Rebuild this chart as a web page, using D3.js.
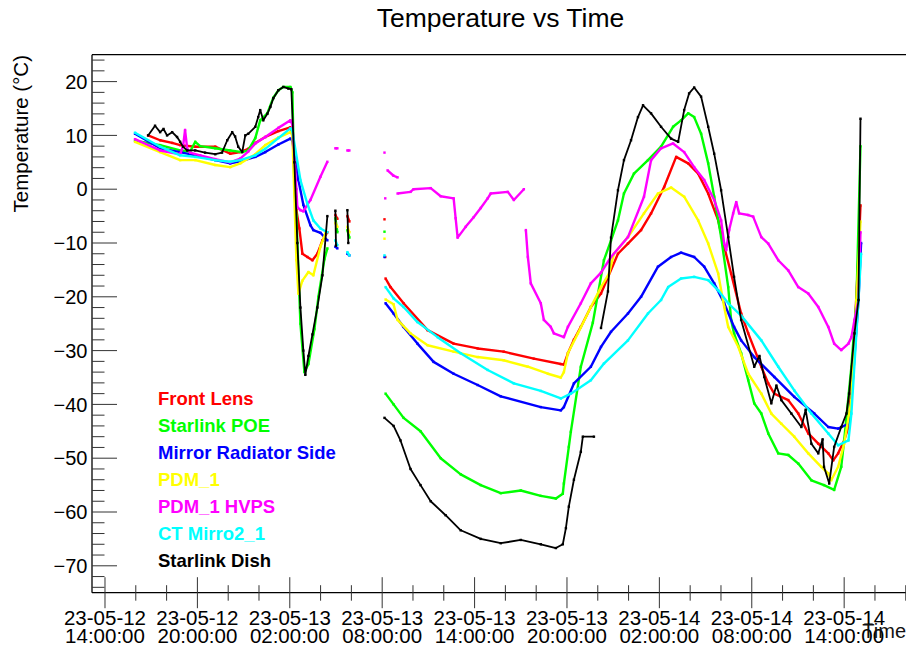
<!DOCTYPE html>
<html><head><meta charset="utf-8">
<script src="https://cdn.jsdelivr.net/npm/d3@7"></script>
<style>
body{margin:0;background:#fff}
svg{display:block}
text{font-family:"Liberation Sans",Arial,Helvetica,sans-serif}
</style>
</head><body>
<svg id="chart" width="906" height="649"></svg>
<script>
// ---- Data (time in hours since 2023-05-12 00:00 UTC, temperature in °C); null = gap ----
const seriesNames = ["Front Lens","Starlink POE","Mirror Radiator Side","PDM_1","PDM_1 HVPS","CT Mirro2_1","Starlink Dish"];
const seriesColors = ["#ff0000","#00ff00","#0000ff","#ffff00","#ff00ff","#00ffff","#000000"];

const frontLens = [[16.80,10.0],[17.58,9.1],[18.36,8.6],[18.88,8.2],[19.86,7.9],[21.16,7.9],[22.13,6.6],[22.78,6.9],[23.30,7.5],[23.76,8.6],[24.41,9.7],[25.26,10.8],[26.04,11.5],[26.17,10.5],[26.43,-3.9],[26.62,-7.3],[26.82,-12.0],[27.14,-12.6],[27.47,-13.2],[27.79,-12.0],[28.12,-9.5],[28.44,-8.0],null,[28.96,-4.8],[29.09,-5.5],null,[29.74,-5.0],[29.87,-6.0],null,
  [32.15,-5.6],null,[32.20,-12.6],null,[32.22,-16.6],[32.54,-18.2],[33.39,-21.2],[34.95,-26.2],[36.64,-28.7],[38.20,-29.6],[39.89,-30.2],[41.85,-31.5],[43.60,-32.5],[43.80,-32.6],[44.06,-30.5],[44.45,-28.0],[44.90,-25.6],[45.55,-21.9],[46.21,-19.4],[47.31,-12.0],[47.96,-10.1],[48.81,-7.6],[49.46,-4.5],[50.31,0.4],[51.09,6.0],[51.87,4.8],[52.52,2.9],[53.17,-0.8],[53.82,-5.8],[54.21,-10.7],[54.66,-15.7],[55.31,-23.1],[55.77,-26.8],[56.62,-33.0],[57.07,-36.1],[57.46,-38.0],[58.37,-39.2],[59.02,-41.7],[59.67,-45.4],[60.32,-47.3],[60.97,-49.1],[61.29,-50.4],[61.61,-49.1],[62.00,-46.7],[62.28,-44.2],[62.47,-36.1],[62.67,-26.8],[62.93,-12.0],[63.06,-3.0]];

const starlinkPOE = [[15.95,9.0],[17.58,8.2],[18.88,7.2],[19.53,7.0],[19.86,8.8],[20.18,8.0],[21.16,7.6],[22.13,7.2],[22.91,6.9],[23.30,7.2],[23.76,9.5],[24.08,12.8],[24.54,14.1],[24.93,17.0],[25.26,18.4],[25.58,19.0],[26.04,19.0],[26.17,18.0],[26.30,0.0],[26.43,-5.0],[26.69,-25.0],[26.95,-34.0],[27.21,-32.5],[27.60,-26.0],[27.86,-20.0],[28.25,-13.0],[28.44,-11.0],null,[28.96,-5.4],[29.09,-8.0],null,[29.74,-7.6],[29.87,-9.0],null,
  [32.15,-7.9],null,[32.22,-38.0],[32.74,-40.0],[33.39,-42.5],[34.49,-45.0],[35.80,-50.0],[37.10,-53.0],[38.40,-55.0],[39.70,-56.5],[41.00,-56.0],[42.30,-57.0],[43.28,-57.5],[43.73,-56.6],[43.80,-54.7],[44.12,-47.9],[44.25,-45.1],[44.90,-33.0],[45.68,-24.8],[46.40,-13.2],[46.86,-9.5],[47.31,-5.8],[47.70,-0.8],[48.35,2.9],[49.26,5.4],[50.11,7.9],[50.89,11.6],[51.41,12.8],[51.87,14.1],[52.26,13.4],[52.71,10.3],[53.17,4.8],[53.56,-1.4],[54.01,-8.9],[54.47,-18.2],[54.66,-24.3],[54.85,-26.8],[55.31,-30.5],[55.77,-35.5],[56.16,-39.8],[56.62,-41.7],[57.07,-45.4],[57.72,-49.1],[58.37,-49.4],[59.02,-51.0],[59.87,-54.1],[60.69,-55.0],[61.35,-55.9],[61.81,-51.6],[62.00,-46.7],[62.47,-33.0],[62.80,-20.6],[63.06,8.0]];

const mirrorRadiator = [[15.95,10.3],[17.58,7.6],[18.88,6.9],[19.86,6.3],[21.16,5.4],[22.13,4.8],[22.78,5.2],[23.76,6.0],[24.41,6.9],[25.26,8.3],[26.04,9.4],[26.17,9.0],[26.56,1.7],[26.88,-2.9],[27.34,-6.7],[27.53,-7.6],[27.99,-8.1],[28.44,-9.5],null,[28.96,-10.7],[29.09,-11.0],null,[29.74,-12.0],[29.87,-12.3],null,
  [32.15,-12.6],null,[32.22,-21.2],[32.74,-23.1],[33.39,-25.6],[34.29,-28.7],[35.34,-32.1],[36.64,-34.3],[38.20,-36.4],[39.70,-38.5],[42.30,-40.5],[43.60,-41.1],[43.80,-40.5],[44.45,-36.1],[45.55,-33.0],[46.21,-29.3],[46.86,-26.5],[47.96,-23.1],[48.81,-20.0],[49.91,-14.4],[50.76,-12.6],[51.41,-11.8],[52.26,-12.6],[52.91,-14.4],[53.56,-17.5],[54.21,-21.2],[54.85,-25.6],[55.31,-28.1],[56.16,-31.2],[57.46,-34.9],[58.76,-38.6],[60.06,-41.7],[60.97,-44.2],[61.61,-44.5],[62.28,-43.6],[62.47,-39.2],[62.93,-20.6],[63.10,-10.0]];

const pdm1 = [[15.95,8.8],[17.58,6.9],[18.88,5.4],[19.86,5.4],[21.16,4.5],[22.13,4.1],[22.78,4.8],[23.76,6.5],[24.41,8.2],[25.26,9.6],[26.04,10.6],[26.17,10.0],[26.43,-13.2],[26.56,-19.4],[26.82,-17.0],[27.21,-15.4],[27.53,-16.0],[27.99,-10.7],[28.31,-8.2],null,[28.96,-6.3],[29.09,-7.0],null,[29.74,-7.0],[29.87,-8.0],null,
  [32.15,-9.2],null,[32.22,-20.5],[32.74,-21.4],[33.00,-24.3],[33.84,-26.8],[34.95,-29.0],[36.64,-30.2],[38.20,-31.2],[39.89,-31.8],[41.46,-33.0],[42.76,-34.3],[43.60,-35.0],[43.80,-34.0],[44.06,-30.5],[44.71,-26.8],[45.55,-21.9],[46.21,-18.2],[46.73,-15.7],[47.05,-12.0],[47.96,-8.9],[49.00,-4.5],[49.91,-0.8],[50.76,0.3],[51.61,-1.4],[52.52,-5.8],[53.17,-10.1],[53.82,-15.7],[54.21,-21.9],[54.47,-25.6],[55.12,-29.3],[55.77,-34.3],[56.62,-38.0],[57.27,-41.7],[57.92,-43.6],[58.76,-46.0],[59.67,-49.1],[60.51,-51.6],[60.97,-52.8],[61.16,-54.1],[61.61,-51.6],[62.00,-47.3],[62.47,-39.2],[62.80,-20.6],[63.06,-6.0]];

const pdm1Hvps = [[15.95,9.3],[17.58,7.2],[18.88,6.5],[19.07,8.0],[19.20,11.0],[19.34,7.5],[19.53,6.8],[20.18,6.3],[21.16,5.6],[22.13,5.0],[22.78,5.7],[23.30,7.0],[23.76,8.5],[24.41,9.7],[25.26,11.4],[26.04,12.8],[26.17,12.0],[26.43,0.0],[26.49,-3.3],[26.69,-3.9],[26.88,-4.1],[27.34,-2.0],[27.99,2.3],[28.44,5.1],null,[28.96,7.6],[29.09,7.6],null,[29.74,7.2],[29.87,7.2],null,
  [32.15,6.8],null,[32.20,-1.7],null,[32.35,3.5],[32.74,2.5],[33.00,2.2],null,[33.00,-0.8],[33.84,-0.5],[34.04,0.0],[35.15,0.2],[35.80,-1.3],[36.64,-1.7],[36.77,-5.4],[36.90,-9.0],[37.42,-7.0],[37.94,-5.2],[38.40,-3.5],[38.85,-1.7],[39.05,-0.8],[40.16,-0.5],[40.55,-2.0],[41.20,0.0],null,[41.33,-7.6],[41.46,-12.6],[41.65,-17.5],[42.30,-21.2],[42.50,-24.3],[42.95,-25.6],[43.15,-26.8],[43.80,-27.5],[44.06,-25.6],[44.90,-21.2],[45.55,-17.5],[46.21,-15.5],[46.86,-12.6],[47.96,-8.9],[49.00,-1.4],[49.46,5.4],[50.11,7.6],[50.89,8.5],[51.61,6.9],[52.26,4.1],[52.91,1.7],[53.56,-2.0],[54.01,-5.8],[54.21,-10.1],[54.34,-11.3],[54.53,-7.6],[54.79,-4.5],[54.99,-2.4],[55.18,-4.5],[55.77,-4.8],[56.09,-5.1],[56.62,-8.9],[57.07,-10.1],[57.72,-13.2],[58.37,-15.1],[59.02,-18.2],[59.67,-19.4],[60.32,-21.9],[60.97,-25.6],[61.35,-28.7],[61.81,-29.9],[62.28,-28.7],[62.47,-27.5],[62.67,-24.3],[62.93,-20.6],[63.06,-8.0]];

const ctMirro2 = [[15.95,10.5],[17.58,7.9],[18.88,6.3],[19.86,6.0],[21.16,5.4],[22.13,5.1],[22.78,5.4],[23.76,6.3],[24.41,7.5],[25.26,9.5],[26.04,11.3],[26.17,10.8],[26.69,1.7],[27.14,-2.7],[27.53,-5.8],[27.99,-7.3],[28.44,-8.0],null,[28.96,-9.5],[29.09,-10.4],null,[29.74,-11.7],[29.87,-12.3],null,
  [32.15,-12.3],null,[32.22,-18.2],[32.74,-20.3],[33.39,-21.9],[34.29,-24.7],[35.60,-27.5],[37.10,-30.5],[38.85,-33.6],[40.55,-36.1],[42.30,-37.5],[43.60,-38.9],[44.25,-38.0],[45.55,-35.5],[46.40,-32.4],[47.96,-28.1],[49.26,-23.1],[50.11,-20.6],[50.57,-18.2],[51.41,-16.6],[52.26,-16.3],[53.17,-16.9],[53.82,-18.8],[54.47,-21.2],[55.31,-23.5],[56.62,-28.1],[57.72,-33.0],[58.76,-37.4],[59.87,-41.7],[60.97,-45.4],[61.61,-47.6],[62.28,-46.7],[62.47,-41.7],[62.93,-20.6],[63.10,-12.0]];

const starlinkDish = [[16.80,10.0],[17.25,11.8],[17.58,10.6],[17.80,11.2],[18.03,10.0],[18.36,10.6],[18.68,9.7],[18.88,8.8],[19.07,7.9],[19.34,7.2],[19.86,7.2],[20.50,6.8],[21.16,6.5],[21.60,6.8],[21.94,9.1],[22.26,10.6],[22.45,9.8],[22.65,7.9],[22.91,6.9],[23.11,10.0],[23.30,10.3],[23.76,11.6],[23.95,13.4],[24.08,14.7],[24.28,12.8],[24.54,14.0],[24.74,15.3],[24.93,16.9],[25.26,18.4],[25.58,19.0],[25.91,18.7],[26.10,18.6],[26.30,5.0],[26.49,-10.0],[26.69,-22.0],[26.88,-30.0],[27.01,-34.5],[27.21,-31.0],[27.47,-27.0],[27.79,-22.0],[28.12,-16.0],[28.44,-5.0],null,[28.96,-4.0],[29.00,-10.5],null,[29.74,-3.9],[29.80,-10.0],null,
  [32.15,-42.5],[32.74,-44.0],[33.19,-46.7],[33.84,-52.0],[34.49,-55.0],[35.15,-58.0],[36.12,-60.6],[37.10,-63.4],[38.40,-65.0],[39.70,-65.8],[41.00,-65.2],[42.30,-66.0],[43.28,-66.7],[43.73,-66.0],[43.93,-63.0],[44.12,-59.0],[44.45,-54.0],[44.90,-48.8],[45.03,-46.0],[45.75,-46.0],null,[46.21,-25.8],[46.66,-19.0],[46.86,-9.0],[47.31,-0.2],[47.70,5.4],[48.16,9.1],[48.61,13.4],[48.94,15.6],[49.46,14.1],[50.11,11.6],[50.76,9.4],[51.22,8.8],[51.61,14.7],[51.93,17.8],[52.26,18.9],[52.71,17.2],[53.17,11.6],[53.56,6.6],[54.01,-0.2],[54.47,-8.9],[54.85,-16.3],[55.31,-24.3],[56.16,-33.0],[56.50,-31.0],[56.81,-34.9],[57.27,-39.8],[57.60,-36.5],[57.92,-39.2],[58.57,-41.7],[59.22,-44.2],[59.50,-41.0],[59.87,-47.3],[60.32,-49.1],[60.60,-46.5],[60.69,-51.6],[61.03,-54.7],[61.35,-47.9],[61.81,-44.2],[62.15,-41.7],[62.32,-38.0],[62.67,-26.8],[62.93,-20.6],[63.06,13.1]];

const seriesData = [frontLens, starlinkPOE, mirrorRadiator, pdm1, pdm1Hvps, ctMirro2, starlinkDish];

const titleText = "Temperature vs Time";
const yAxisTitle = "Temperature (\u00B0C)";
const xAxisTitle = "Time";
const xMajorHours = [14,20,26,32,38,44,50,56,62];   // labelled ticks
const yMajorTicks = [-70,-60,-50,-40,-30,-20,-10,0,10,20];
const timeOrigin = Date.UTC(2023,4,12,0,0,0);

// ---- Layout ----
const svg = d3.select("#chart");
const L = 92, T = 54.7, B = 592.7, R = 915;
const x = d3.scaleLinear().domain([13.156, 66.6]).range([L, R]);
const y = d3.scaleLinear().domain([-75, 25]).range([B, T]);
const font = '"Liberation Sans",Arial,Helvetica,sans-serif';

svg.append("defs").append("clipPath").attr("id","clip")
  .append("rect").attr("x",L).attr("y",T).attr("width",R-L).attr("height",B-T);

// Title
svg.append("text").attr("x",500.5).attr("y",27).attr("text-anchor","middle")
  .attr("font-size",26.5).attr("fill","#000").text(titleText);

// Series
const plot = svg.append("g").attr("clip-path","url(#clip)");
const line = d3.line().defined(d => d !== null).x(d => x(d[0])).y(d => y(d[1]));
seriesData.forEach((data, i) => {
  const c = seriesColors[i];
  plot.append("path").attr("d", line(data)).attr("fill","none")
    .attr("stroke", c).attr("stroke-width", i === 6 ? 1.8 : 2.4)
    .attr("stroke-linejoin","round");
  plot.selectAll(null).data(data.filter(d => d !== null)).enter().append("rect")
    .attr("x", d => x(d[0]) - 1.2).attr("y", d => y(d[1]) - 1.2)
    .attr("width", 2.4).attr("height", 2.4).attr("fill", c);
});

// Frame (top and left)
svg.append("line").attr("x1",L).attr("x2",R).attr("y1",T).attr("y2",T).attr("stroke","#000").attr("stroke-width",1.3);
svg.append("line").attr("x1",L).attr("x2",L).attr("y1",T).attr("y2",B).attr("stroke","#000").attr("stroke-width",1.3);
svg.append("line").attr("x1",L).attr("x2",R).attr("y1",B).attr("y2",B).attr("stroke","#000").attr("stroke-width",1.3);

// Y axis ticks (inward)
const yMinor = d3.range(-74, 25, 2).filter(v => v % 10 !== 0);
const yAx = svg.append("g");
yMinor.forEach(v => yAx.append("line").attr("x1",L).attr("x2",L+12.5).attr("y1",y(v)).attr("y2",y(v)).attr("stroke","#333").attr("stroke-width",1));
yMajorTicks.forEach(v => {
  yAx.append("line").attr("x1",L).attr("x2",L+25).attr("y1",y(v)).attr("y2",y(v)).attr("stroke","#333").attr("stroke-width",1);
  yAx.append("text").attr("x",L-4.5).attr("y",y(v)).attr("dy","0.36em").attr("text-anchor","end")
    .attr("font-size",20).attr("fill","#000").text(d3.format("d")(v).replace("-","\u2212"));
});

// X axis ticks (crossing the axis)
const xMinor = d3.range(14, 67, 2).filter(h => !xMajorHours.includes(h) && x(h) >= L && x(h) <= R);
const xAx = svg.append("g");
xMinor.forEach(h => xAx.append("line").attr("x1",x(h)).attr("x2",x(h)).attr("y1",B-7.5).attr("y2",B+8).attr("stroke","#333").attr("stroke-width",1));
const fmtDate = d3.utcFormat("%y-%m-%d"), fmtTime = d3.utcFormat("%H:%M:%S");
xMajorHours.forEach(h => {
  const xp = x(h), dt = new Date(timeOrigin + h*3600e3);
  xAx.append("line").attr("x1",xp).attr("x2",xp).attr("y1",B-15.5).attr("y2",B+15.5).attr("stroke","#333").attr("stroke-width",1);
  const t = xAx.append("text").attr("text-anchor","middle").attr("font-size",20.5).attr("fill","#000");
  t.append("tspan").attr("x",xp).attr("y",625).text(fmtDate(dt));
  t.append("tspan").attr("x",xp).attr("y",643).text(fmtTime(dt));
});

// Axis titles
svg.append("text").attr("x",906).attr("y",638).attr("text-anchor","end").attr("font-size",20).attr("fill","#111").text(xAxisTitle);
svg.append("text").attr("transform","translate(28,55) rotate(-90)").attr("text-anchor","end")
  .attr("font-size",20.5).attr("fill","#000").text(yAxisTitle);

// Legend
seriesNames.forEach((n, i) => {
  svg.append("text").attr("x",158).attr("y",405 + 27*i).attr("font-size",18.5).attr("font-weight","bold")
    .attr("fill",seriesColors[i]).text(n);
});
</script>
</body></html>
